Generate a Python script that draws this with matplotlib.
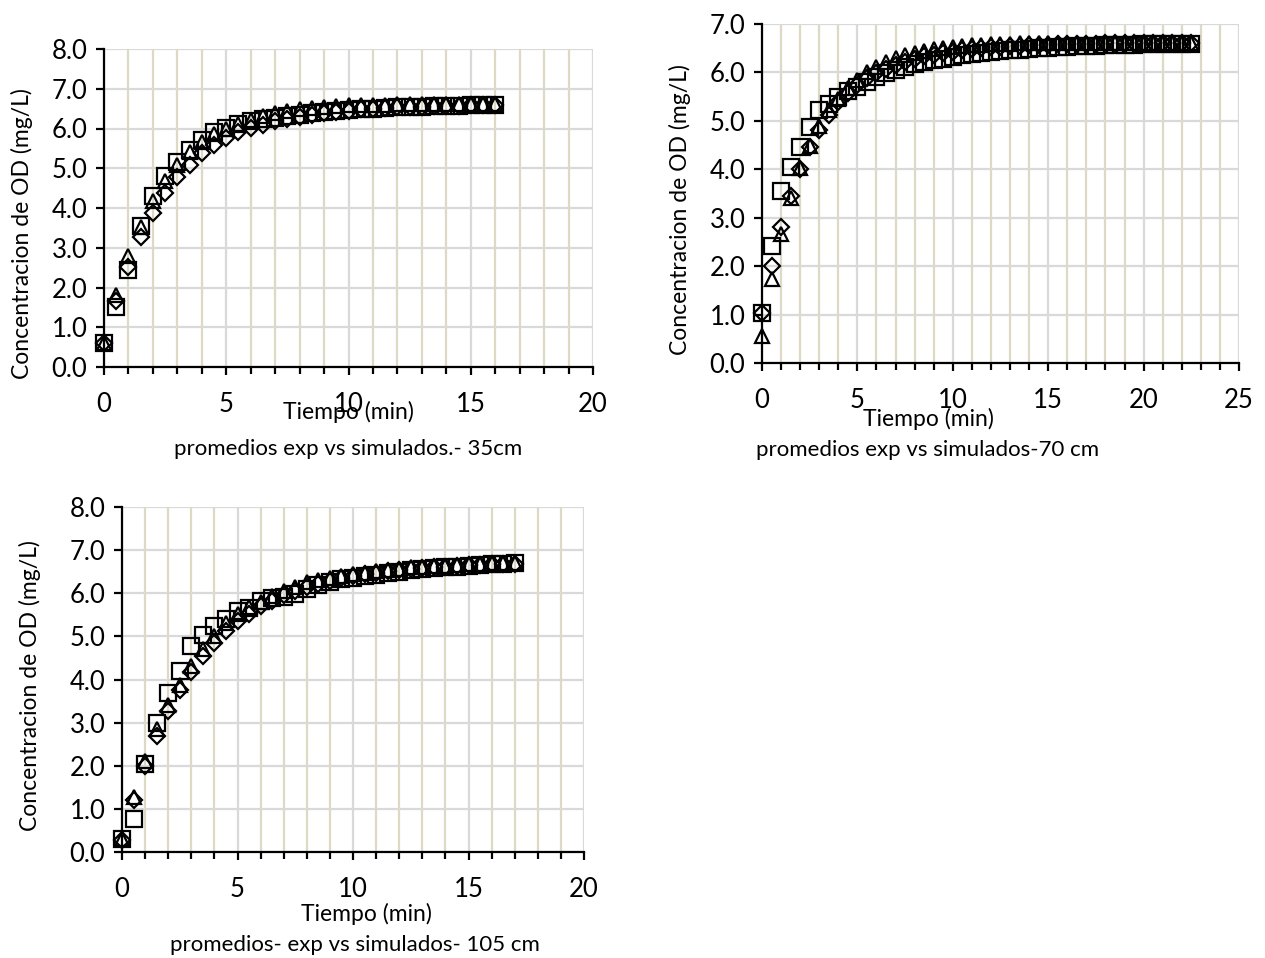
import matplotlib
matplotlib.use("Agg")
import matplotlib.pyplot as plt
from matplotlib.ticker import MultipleLocator, FormatStrFormatter

plt.rcParams['font.family'] = ['Lato', 'DejaVu Sans']

# ---------------- data ----------------
t35 = [0, 0.5, 1, 1.5, 2, 2.5, 3, 3.5, 4, 4.5, 5, 5.5, 6, 6.5, 7, 7.5, 8, 8.5,
       9, 9.5, 10, 10.5, 11, 11.5, 12, 12.5, 13, 13.5, 14, 14.5, 15, 15.5, 16]
sq35 = [0.60, 1.50, 2.45, 3.55, 4.30, 4.80, 5.15, 5.47, 5.70, 5.90,
        6.02, 6.12, 6.18, 6.23, 6.27, 6.31, 6.35, 6.38, 6.41, 6.44,
        6.46, 6.48, 6.50, 6.52, 6.53, 6.54, 6.55, 6.56, 6.57, 6.57,
        6.58, 6.58, 6.58]
tri35 = [0.60, 1.80, 2.78, 3.52, 4.18, 4.68, 5.08, 5.40, 5.65, 5.85,
         6.00, 6.12, 6.22, 6.31, 6.38, 6.44, 6.49, 6.52, 6.55, 6.57,
         6.58, 6.59, 6.60, 6.60, 6.61, 6.61, 6.61, 6.62, 6.62, 6.62,
         6.62, 6.62, 6.62]
dia35 = [0.60, 1.65, 2.52, 3.28, 3.88, 4.37, 4.77, 5.09, 5.38, 5.59,
         5.76, 5.90, 6.01, 6.10, 6.18, 6.25, 6.30, 6.35, 6.39, 6.42,
         6.45, 6.48, 6.50, 6.52, 6.53, 6.54, 6.55, 6.56, 6.57, 6.57,
         6.58, 6.58, 6.58]

t70 = [0, 0.5, 1, 1.5, 2, 2.5, 3, 3.5, 4, 4.5, 5, 5.5, 6, 6.5, 7, 7.5, 8, 8.5,
       9, 9.5, 10, 10.5, 11, 11.5, 12, 12.5, 13, 13.5, 14, 14.5, 15, 15.5, 16,
       16.5, 17, 17.5, 18, 18.5, 19, 19.5, 20, 20.5, 21, 21.5, 22, 22.5]
sq70 = [1.03, 2.42, 3.55, 4.05, 4.46, 4.87, 5.22, 5.35, 5.50, 5.62,
        5.70, 5.80, 5.90, 5.98, 6.05, 6.12, 6.18, 6.22, 6.25, 6.28,
        6.32, 6.35, 6.38, 6.40, 6.42, 6.44, 6.46, 6.47, 6.49, 6.50,
        6.51, 6.52, 6.53, 6.54, 6.55, 6.55, 6.56, 6.56, 6.57, 6.57,
        6.58, 6.58, 6.58, 6.58, 6.59, 6.59]
tri70 = [0.56, 1.73, 2.66, 3.41, 4.03, 4.48, 4.90, 5.22, 5.46, 5.68,
         5.85, 6.00, 6.11, 6.21, 6.29, 6.36, 6.41, 6.45, 6.48, 6.51,
         6.53, 6.55, 6.56, 6.57, 6.58, 6.59, 6.59, 6.60, 6.60, 6.60,
         6.60, 6.61, 6.61, 6.61, 6.61, 6.61, 6.61, 6.61, 6.61, 6.61,
         6.61, 6.61, 6.61, 6.61, 6.61, 6.61]
dia70 = [1.03, 2.00, 2.80, 3.45, 4.00, 4.45, 4.82, 5.12, 5.38, 5.58,
         5.75, 5.88, 5.98, 6.07, 6.15, 6.22, 6.28, 6.33, 6.37, 6.40,
         6.43, 6.46, 6.48, 6.50, 6.52, 6.53, 6.54, 6.55, 6.56, 6.57,
         6.57, 6.58, 6.58, 6.59, 6.59, 6.59, 6.60, 6.60, 6.60, 6.60,
         6.60, 6.60, 6.60, 6.60, 6.60, 6.60]

t105 = [0, 0.5, 1, 1.5, 2, 2.5, 3, 3.5, 4, 4.5, 5, 5.5, 6, 6.5, 7, 7.5, 8, 8.5,
        9, 9.5, 10, 10.5, 11, 11.5, 12, 12.5, 13, 13.5, 14, 14.5, 15, 15.5, 16,
        16.5, 17]
sq105 = [0.29, 0.77, 2.03, 3.00, 3.69, 4.20, 4.78, 5.03, 5.25, 5.40,
         5.58, 5.65, 5.81, 5.88, 5.92, 5.98, 6.10, 6.18, 6.25, 6.32,
         6.36, 6.40, 6.43, 6.48, 6.50, 6.54, 6.56, 6.58, 6.60, 6.62,
         6.64, 6.65, 6.67, 6.68, 6.70]
tri105 = [0.30, 1.28, 2.10, 2.85, 3.40, 3.88, 4.32, 4.70, 5.00, 5.30,
          5.52, 5.67, 5.80, 5.93, 6.05, 6.15, 6.25, 6.30, 6.36, 6.40,
          6.45, 6.48, 6.52, 6.55, 6.57, 6.60, 6.62, 6.63, 6.64, 6.66,
          6.67, 6.68, 6.69, 6.70, 6.70]
dia105 = [0.28, 1.20, 2.00, 2.70, 3.27, 3.75, 4.18, 4.55, 4.85, 5.12,
          5.35, 5.53, 5.70, 5.83, 5.95, 6.05, 6.14, 6.22, 6.29, 6.35,
          6.40, 6.44, 6.48, 6.51, 6.54, 6.57, 6.59, 6.61, 6.62, 6.64,
          6.65, 6.66, 6.67, 6.68, 6.68]

ylabel = "Concentracion de OD (mg/L)"
xlabel = "Tiempo (min)"
subtitles = ["promedios exp vs simulados.- 35cm",
             "promedios exp vs simulados-70 cm",
             "promedios- exp vs simulados- 105 cm"]

# ---------------- layout ----------------
W, H = 1265, 958
fig = plt.figure(figsize=(W / 100, H / 100), dpi=100)


def px_rect(left, top, right, bottom):
    return [left / W, 1 - bottom / H, (right - left) / W, (bottom - top) / H]


MAJ = '#d9d9d9'
MIN = '#ddd9c3'


def make_panel(rect, t, sq, tri, dia, xmax, ymax):
    ax = fig.add_axes(rect)
    ax.set_xlim(0, xmax)
    ax.set_ylim(0, ymax)
    ax.xaxis.set_major_locator(MultipleLocator(5))
    ax.xaxis.set_minor_locator(MultipleLocator(1))
    ax.yaxis.set_major_locator(MultipleLocator(1))
    ax.yaxis.set_major_formatter(FormatStrFormatter('%.1f'))
    ax.grid(which='minor', axis='x', color=MIN, lw=1.6, zorder=0)
    ax.grid(which='major', axis='x', color=MAJ, lw=1.6, zorder=0)
    ax.grid(which='major', axis='y', color=MAJ, lw=1.6, zorder=0)
    ax.set_axisbelow(True)
    for s in ['top', 'right']:
        ax.spines[s].set_visible(False)
    for s in ['left', 'bottom']:
        ax.spines[s].set_linewidth(1.6)
        ax.spines[s].set_color('black')
    ax.tick_params(which='major', direction='out', length=6, width=1.6,
                   labelsize=18.5, colors='black')
    ax.tick_params(axis='x', which='major', pad=12)
    ax.tick_params(axis='y', which='major', pad=6)
    ax.tick_params(axis='x', which='minor', direction='out', length=5, width=1.6)
    ax.plot(t, sq, ls='none', marker='s', ms=11.5, mfc='none', mec='black',
            mew=1.6, clip_on=False, zorder=3)
    ax.plot(t, tri, ls='none', marker='^', ms=10.5, mfc='none', mec='black',
            mew=1.6, clip_on=False, zorder=4)
    ax.plot(t, dia, ls='none', marker='D', ms=8, mfc='none', mec='black',
            mew=1.6, clip_on=False, zorder=5)
    return ax


make_panel(px_rect(104, 49, 593, 367), t35, sq35, tri35, dia35, 20, 8)
make_panel(px_rect(762, 24, 1239, 363), t70, sq70, tri70, dia70, 25, 7)
make_panel(px_rect(122, 507, 584, 852), t105, sq105, tri105, dia105, 20, 8)


def ftext(x, y, s, **kw):
    fig.text(x / W, 1 - y / H, s, ha='center', va='center', color='black', **kw)


ftext(22, 234, ylabel, rotation=90, fontsize=16.5)
ftext(680, 210, ylabel, rotation=90, fontsize=16.5)
ftext(30, 686, ylabel, rotation=90, fontsize=16.5)

ftext(348, 412, xlabel, fontsize=16.5)
ftext(928, 419, xlabel, fontsize=16.5)
ftext(366, 914, xlabel, fontsize=16.5)

ftext(348, 449, subtitles[0], fontsize=16)
ftext(928, 450, subtitles[1], fontsize=16)
ftext(355, 945, subtitles[2], fontsize=16)

fig.savefig("out.png", dpi=100)
